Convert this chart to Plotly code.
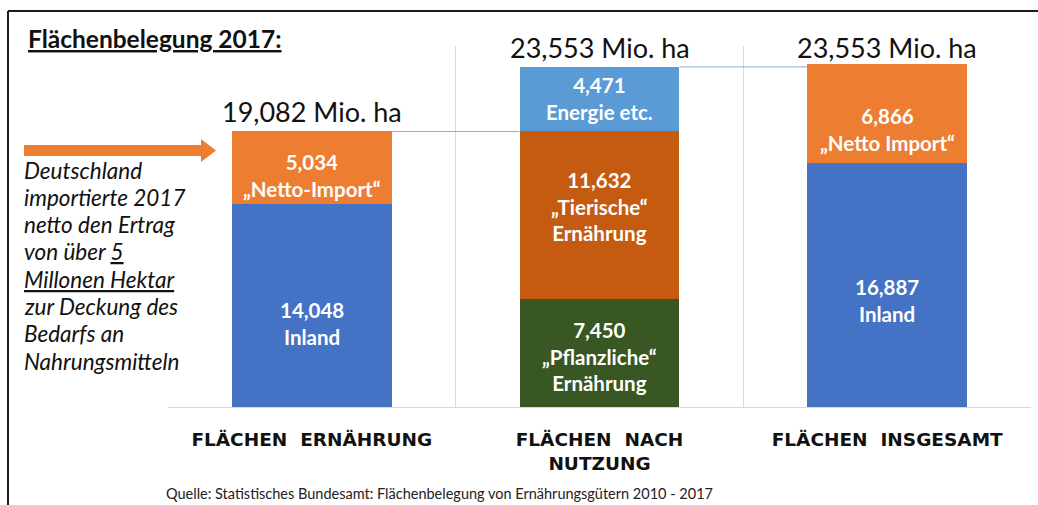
import plotly.graph_objects as go

# ---------------- data ----------------
categories = ["FLÄCHEN\u00a0\u00a0ERNÄHRUNG", "FLÄCHEN\u00a0\u00a0NACH<br>NUTZUNG", "FLÄCHEN\u00a0\u00a0INSGESAMT"]

# segments (bottom -> top), one list per series; None = not present in that category
inland = [14.048, None, 16.887]
netto_import = [5.034, None, 6.866]
pflanzlich = [None, 7.450, None]
tierisch = [None, 11.632, None]
energie = [None, 4.471, None]

inland_labels = ["14,048<br>Inland", "", "16,887<br>Inland"]
import_labels = ["5,034<br>„Netto-Import“", "", "6,866<br>„Netto Import“"]
pflanz_labels = ["", "7,450<br>„Pflanzliche“<br>Ernährung", ""]
tier_labels = ["", "11,632<br>„Tierische“<br>Ernährung", ""]
energie_labels = ["", "4,471<br>Energie etc.", ""]

total_labels = ["19,082 Mio. ha", "23,553 Mio. ha", "23,553 Mio. ha"]
total_values = [19.082, 23.553, 23.553]

title_text = "Flächenbelegung 2017:"
side_lines = ["Deutschland", "importierte 2017", "netto den Ertrag", "von über <u>5</u>",
              "<u>Millonen Hektar</u>", "zur Deckung des", "Bedarfs an", "Nahrungsmitteln"]
source_text = "Quelle: Statistisches Bundesamt: Flächenbelegung von Ernährungsgütern 2010 - 2017"

# ---------------- layout helpers ----------------
W, H = 1038, 505
L, R, T, B = 168, 7, 46, 98
PW, PH = W - L - R, H - T - B


def px(x):
    return (x - L) / PW


def py(y):
    return (H - B - y) / PH


BLUE = "#4472C4"
ORANGE = "#ED7D31"
GREEN = "#385723"
BROWN = "#C55A11"
LBLUE = "#5B9BD5"

xs = [0, 1, 2]
series = [
    ("Inland", inland, BLUE, inland_labels, [-18, 0, -15]),
    ("Netto-Import", netto_import, ORANGE, import_labels, [-8, 0, -16]),
    ("Pflanzliche Ernährung", pflanzlich, GREEN, pflanz_labels, [0, -3, 0]),
    ("Tierische Ernährung", tierisch, BROWN, tier_labels, [0, 9, 0]),
    ("Energie etc.", energie, LBLUE, energie_labels, [0, 1, 0]),
]

fig = go.Figure()
annotations = []
base = [0.0, 0.0, 0.0]
for name, vals, color, labels, shifts in series:
    fig.add_trace(go.Bar(
        x=xs, y=[v if v is not None else 0 for v in vals], name=name,
        marker=dict(color=color, line=dict(width=0)),
        hoverinfo="name+y",
    ))
    for i, v in enumerate(vals):
        if v is None:
            continue
        annotations.append(dict(
            x=xs[i], y=base[i] + v / 2, xref="x", yref="y", text=labels[i],
            showarrow=False, yshift=shifts[i],
            font=dict(family="Lato", size=20.5, color="white", weight="bold"),
        ))
        base[i] += v

# totals above bars
for i, t in enumerate(total_labels):
    annotations.append(dict(
        x=xs[i], y=total_values[i], xref="x", yref="y", text=t, showarrow=False,
        yanchor="bottom", yshift=1,
        font=dict(family="Lato", size=27, color="#111111"),
    ))

# title, side text, source
annotations.append(dict(x=px(26), y=py(38), xref="paper", yref="paper", text=f"<b><u>{title_text}</u></b>",
                        showarrow=False, xanchor="left", yanchor="middle",
                        font=dict(family="Lato", size=24.5, color="#111111")))
for k, line in enumerate(side_lines):
    annotations.append(dict(x=px(22), y=py(170 + k * 27.3), xref="paper", yref="paper",
                            text=f"<i>{line}</i>", showarrow=False, xanchor="left", yanchor="middle",
                            font=dict(family="Lato", size=22.5, color="#111111")))
annotations.append(dict(x=px(164), y=py(493), xref="paper", yref="paper", text=source_text,
                        showarrow=False, xanchor="left", yanchor="middle",
                        font=dict(family="Lato", size=14.5, color="#222222")))

bar_width = 1 - 0.444
shapes = []
# series connector lines (Excel-style)
connect = [
    (0 + bar_width / 2, 1 - bar_width / 2, total_values[0]),
    (1 + bar_width / 2, 2 - bar_width / 2, total_values[1]),
]
for x0, x1, yv in connect:
    shapes.append(dict(type="line", xref="x", yref="y", x0=x0, x1=x1, y0=yv, y1=yv,
                       line=dict(color="#8FAADC", width=1)))

# orange arrow
ay0, ay1 = 145, 156
hy0, hy1 = 139, 162
shapes.append(dict(
    type="path", xref="paper", yref="paper",
    path=(f"M {px(24)},{py(ay0)} L {px(201)},{py(ay0)} L {px(201)},{py(hy0)} "
          f"L {px(216)},{py(150.5)} L {px(201)},{py(hy1)} L {px(201)},{py(ay1)} "
          f"L {px(24)},{py(ay1)} Z"),
    fillcolor=ORANGE, line=dict(width=0),
))
# black frame (left and top)
shapes.append(dict(type="line", xref="paper", yref="paper", x0=px(8), x1=px(8), y0=py(11), y1=py(510),
                   line=dict(color="#1a1a1a", width=2)))
shapes.append(dict(type="line", xref="paper", yref="paper", x0=px(8), x1=px(1040), y0=py(11), y1=py(11),
                   line=dict(color="#1a1a1a", width=2)))

fig.update_layout(
    width=W, height=H,
    margin=dict(l=L, r=R, t=T, b=B, pad=0),
    barmode="stack", bargap=0.444,
    showlegend=False,
    plot_bgcolor="white", paper_bgcolor="white",
    annotations=annotations, shapes=shapes,
    xaxis=dict(
        tickmode="array", tickvals=xs, ticktext=categories,
        range=[-0.5, 2.5],
        showgrid=False, zeroline=False,
        showline=True, linecolor="#D9D9D9", linewidth=1,
        ticks="", ticklabelstandoff=16,
        tickfont=dict(family="DejaVu Sans", size=18.5, color="#111111", weight="bold"),
    ),
    yaxis=dict(range=[0, 25], visible=False, fixedrange=True),
)
# vertical category separators as minor grid at boundaries
fig.update_xaxes(minor=dict(tickmode="array", tickvals=[-0.5, 0.5, 1.5, 2.5], showgrid=True,
                            gridcolor="#D9D9D9", gridwidth=1, ticks=""))

fig.write_html("out.html", config={"displayModeBar": False},
               post_script="document.body.style.margin='0';document.body.style.overflow='hidden';")
